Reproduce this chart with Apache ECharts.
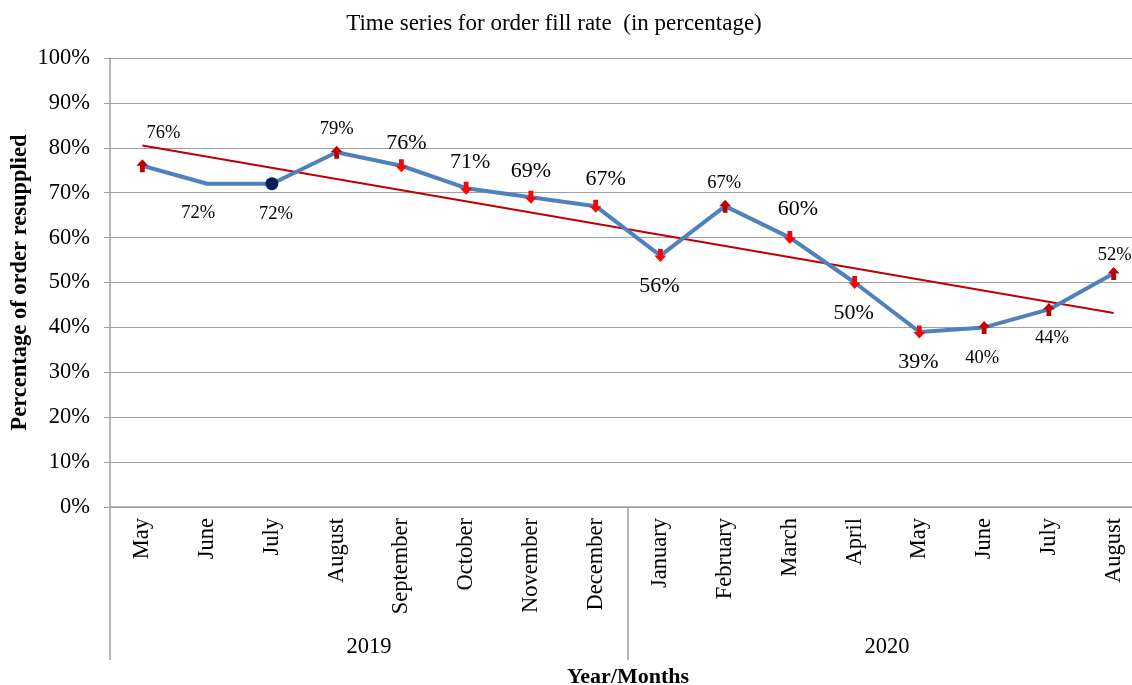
<!DOCTYPE html>
<html><head><meta charset="utf-8">
<script src="https://cdn.jsdelivr.net/npm/echarts@6/dist/echarts.min.js"></script>
<style>html,body{margin:0;padding:0;background:#fff}#c{width:1132px;height:685px}</style>
</head><body><div id="c"></div>
<script>
const months = ['May','June','July','August','September','October','November','December','January','February','March','April','May','June','July','August'];
const years = ['2019','2020'];
const fillRate = [76,72,72,79,76,71,69,67,56,67,60,50,39,40,44,52];
const trendEnds = [80.5, 43.2];
const yTicks = [0,10,20,30,40,50,60,70,80,90,100];
// marker kind per point: up / down / dot / none
const markerKind = ['up','none','dot','up','down','down','down','down','down','up','down','down','down','up','up','up'];
// label placement: [position, dx, dy, big]
const labelPlace = [
  ['top',21,-12,0],['bottom',-9,14,0],['bottom',4,9,0],['top',0,-2,0],
  ['top',5,0,1],['top',4,-3,1],['top',0,-3,1],['top',10,-4,1],
  ['bottom',-1,8,1],['top',-1,-2,0],['top',8,-6,1],['bottom',-1,8,1],
  ['bottom',-1,8,1],['bottom',-2,10,0],['bottom',3,8,0],['top',1,3,0]
];

const upPath = 'path://M5,0 L10,5 L7,5 L7,10 L3,10 L3,5 L0,5 Z';
const downPath = 'path://M3,0 L7,0 L7,5 L10,5 L5,10 L0,5 L3,5 Z';
const FONT = '"Liberation Serif","Times New Roman",serif';

const lineData = fillRate.map((v,i)=>{
  const k = markerKind[i];
  const p = labelPlace[i];
  const d = {value:v,
    label:{show:true, position:p[0], offset:[p[1],p[2]], fontSize:p[3]?22:18.5, fontFamily:FONT, color:'#000', formatter:'{c}%'}};
  if(k==='up'){d.symbol=upPath; d.symbolSize=[12,13]; d.itemStyle={color:'#C00000'};}
  else if(k==='down'){d.symbol=downPath; d.symbolSize=[12,13]; d.itemStyle={color:'#FF0000'};}
  else if(k==='dot'){d.symbol='circle'; d.symbolSize=13; d.itemStyle={color:'#0B1E5B'};}
  else {d.symbol='circle'; d.symbolSize=2; d.itemStyle={color:'#4F81BD'};}
  return d;
});
const trendData = months.map((m,i)=> i===0?trendEnds[0]:(i===months.length-1?trendEnds[1]:null));

const chart = echarts.init(document.getElementById('c'), null, {renderer:'canvas'});
chart.setOption({
  animation:false,
  backgroundColor:'#fff',
  textStyle:{fontFamily:FONT},
  title:{text:'Time series for order fill rate  (in percentage)', left:549, top:7, textAlign:'center',
    textStyle:{fontFamily:FONT, fontSize:23, fontWeight:'normal', color:'#000'}},
  grid:{left:110, top:58, width:1036, height:449, containLabel:false, outerBoundsMode:'none'},
  xAxis:[{
    type:'category', data:months, boundaryGap:true, position:'bottom',
    axisLine:{show:true, lineStyle:{color:'#A0A0A0', width:1.5}},
    axisTick:{show:false},
    axisLabel:{rotate:90, interval:0, margin:11, fontFamily:FONT, fontSize:22.5, color:'#000'}
  },{
    type:'category', data:years, boundaryGap:true, position:'bottom',
    axisLine:{show:false},
    axisTick:{show:true, length:153, interval:0, lineStyle:{color:'#A0A0A0', width:1.5}},
    axisLabel:{margin:129, fontFamily:FONT, fontSize:22.5, color:'#000', interval:0},
    name:'Year/Months', nameLocation:'middle', nameGap:159, nameMoveOverlap:false,
    nameTextStyle:{fontFamily:FONT, fontSize:22, fontWeight:'bold', color:'#000', verticalAlign:'top'}
  }],
  yAxis:{
    type:'value', min:yTicks[0], max:yTicks[yTicks.length-1], interval:10,
    axisLine:{show:true, lineStyle:{color:'#A0A0A0', width:1.5}},
    axisTick:{show:true, length:6, lineStyle:{color:'#A0A0A0'}},
    splitLine:{show:true, lineStyle:{color:'#A0A0A0', width:1.2}},
    axisLabel:{formatter:'{value}%', margin:20, fontFamily:FONT, fontSize:22.5, color:'#000'},
    name:'Percentage of order resupplied', nameLocation:'middle', nameGap:78, nameMoveOverlap:false,
    nameTextStyle:{fontFamily:FONT, fontSize:22.5, fontWeight:'bold', color:'#000'}
  },
  series:[{
    type:'line', data:lineData, xAxisIndex:0,
    lineStyle:{color:'#4F81BD', width:4}, itemStyle:{color:'#4F81BD'},
    z:3
  },{
    type:'line', data:trendData, connectNulls:true, xAxisIndex:0, symbol:'none',
    lineStyle:{color:'#C00000', width:2}, z:2, silent:true
  }]
});
</script></body></html>
